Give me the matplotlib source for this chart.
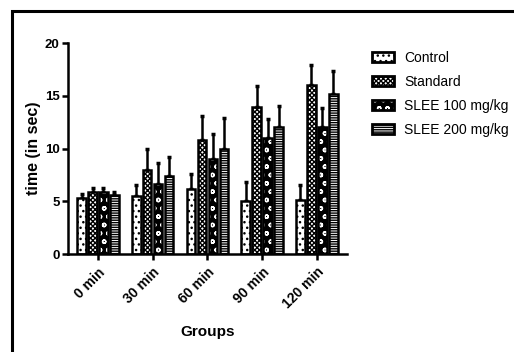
import numpy as np
import matplotlib.pyplot as plt
from matplotlib.patches import Patch, Rectangle
from matplotlib.legend_handler import HandlerTuple

plt.rcParams['font.family'] = ['Liberation Sans', 'DejaVu Sans']
plt.rcParams['hatch.linewidth'] = 1.0

# data
groups = ["0 min", "30 min", "60 min", "90 min", "120 min"]
series = ["Control", "Standard", "SLEE 100 mg/kg", "SLEE 200 mg/kg"]
control = [5.3, 5.5, 6.2, 5.0, 5.1]
control_err = [0.4, 1.0, 1.4, 1.8, 1.4]
standard = [5.85, 8.0, 10.8, 13.9, 16.0]
standard_err = [0.45, 1.95, 2.3, 2.0, 1.9]
slee100 = [5.9, 6.6, 9.0, 11.0, 12.0]
slee100_err = [0.4, 2.0, 2.4, 1.8, 1.8]
slee200 = [5.6, 7.4, 10.0, 12.0, 15.2]
slee200_err = [0.3, 1.8, 2.9, 2.0, 2.1]

values = [control, standard, slee100, slee200]
errors = [control_err, standard_err, slee100_err, slee200_err]
faces = ["white", "white", "black", "white"]
hatch_cols = ["black", "black", "white", "black"]
hatches = ["...", "xxxxxxx", "oo", "-------"]

fig = plt.figure(figsize=(5.14, 3.52), dpi=100)
ax = fig.add_axes([0.1323, 0.2784, 0.5427, 0.5994])

x = np.arange(len(groups))
slot = 0.2
width = 0.155
for i in range(4):
    pos = x + (i - 1.5) * slot
    # fill + hatch
    ax.bar(pos, values[i], width, facecolor=faces[i], edgecolor=hatch_cols[i],
           hatch=hatches[i], linewidth=0, zorder=2)
    # outline
    ax.bar(pos, values[i], width, fill=False, edgecolor="black",
           linewidth=1.8, zorder=3)
    ax.errorbar(pos, values[i], yerr=[np.zeros(len(groups)), errors[i]],
                fmt="none", ecolor="black", elinewidth=1.8, capsize=1.5,
                capthick=2.5, zorder=1)

ax.set_xlim(-0.548, 4.55)
ax.set_ylim(0, 20)
ax.set_yticks([0, 5, 10, 15, 20])
ax.set_xticks(x)
ax.set_xticklabels(groups, rotation=45, ha="right", rotation_mode="anchor",
                   fontweight="bold", fontsize=10)
for lab in ax.get_yticklabels():
    lab.set_fontweight("bold")
    lab.set_fontsize(9.5)
ax.spines["top"].set_visible(False)
ax.spines["right"].set_visible(False)
ax.spines["left"].set_linewidth(1.8)
ax.spines["bottom"].set_linewidth(1.8)
ax.tick_params(axis="both", direction="out", width=1.8, length=4, pad=2)
ax.tick_params(axis="x", pad=4)
ax.set_ylabel("time (in sec)", fontweight="bold", fontsize=11.5, labelpad=3)
ax.set_xlabel("Groups", fontweight="bold", fontsize=11, labelpad=10)

handles = []
for i in range(4):
    fillp = Patch(facecolor=faces[i], edgecolor=hatch_cols[i], hatch=hatches[i],
                  linewidth=0)
    edgep = Patch(fill=False, edgecolor="black", linewidth=2)
    handles.append((fillp, edgep))
leg = fig.legend(handles, series, loc="upper left", bbox_to_anchor=(0.71, 0.875),
                 frameon=False, fontsize=10, handlelength=1.58, handleheight=0.75,
                 labelspacing=0.72, handletextpad=0.72, borderpad=0,
                 handler_map={tuple: HandlerTuple(ndivide=1)})

# outer frame (cut off on the right and bottom)
fig.patches.append(Rectangle((11.5 / 514, -0.1), 1.2, 1.1 - 11.5 / 352,
                             transform=fig.transFigure, fill=False,
                             edgecolor="black", linewidth=2.2))

fig.savefig("out.png", dpi=100)
